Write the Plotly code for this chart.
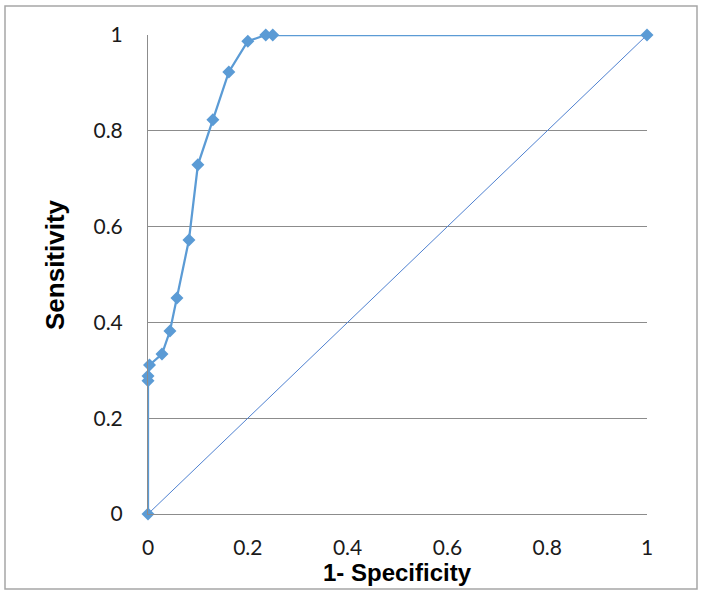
import plotly.graph_objects as go

# ROC curve points (1 - specificity, sensitivity)
fpr = [0, 0, 0, 0.003, 0.028, 0.044, 0.058, 0.082, 0.100, 0.130, 0.162, 0.200, 0.236, 0.250, 1.0]
tpr = [0, 0.278, 0.288, 0.311, 0.334, 0.382, 0.451, 0.572, 0.729, 0.823, 0.923, 0.987, 1.0, 1.0, 1.0]

# reference diagonal
diag_x = [0, 1]
diag_y = [0, 1]

tick_vals = [0, 0.2, 0.4, 0.6, 0.8, 1]
tick_text = ["0", "0.2", "0.4", "0.6", "0.8", "1"]

x_title = "1- Specificity"
y_title = "Sensitivity"

grid = "#8c8c8c"

fig = go.Figure()
fig.add_trace(go.Scatter(x=diag_x, y=diag_y, mode="lines",
                         line=dict(color="#4f81d0", width=1),
                         showlegend=False, hoverinfo="skip"))
fig.add_trace(go.Scatter(x=fpr, y=tpr, mode="lines+markers",
                         line=dict(color="#5b9bd5", width=2.25),
                         marker=dict(symbol="diamond", size=10, color="#5b9bd5"),
                         cliponaxis=False, showlegend=False))

W, H = 704, 595
L, R, T, B = 148, 647, 35, 514
pw, ph = R - L, B - T

def px2x(p):
    return (p - L) / pw

def px2y(p):
    return (B - p) / ph

fig.add_shape(type="rect", xref="paper", yref="paper",
              x0=px2x(5), x1=px2x(697), y0=px2y(589), y1=px2y(6),
              line=dict(color="#a6a6a6", width=1.5), fillcolor="rgba(0,0,0,0)",
              layer="below")

title_font = dict(family="Liberation Sans, Arial, sans-serif", size=24, color="#000")
fig.add_annotation(text="<b>%s</b>" % x_title, xref="paper", yref="paper",
                   x=px2x(397), y=px2y(572), xanchor="center", yanchor="middle",
                   showarrow=False, font=title_font)
fig.add_annotation(text="<b>%s</b>" % y_title, xref="paper", yref="paper",
                   x=px2x(55), y=px2y(265), xanchor="center", yanchor="middle",
                   textangle=-90, showarrow=False,
                   font=dict(family="Liberation Sans, Arial, sans-serif", size=26, color="#000"))

fig.update_layout(
    width=W, height=H,
    margin=dict(l=L, r=W - R, t=T, b=H - B, autoexpand=False),
    paper_bgcolor="white", plot_bgcolor="white",
    font=dict(family="Lato, Open Sans, sans-serif", color="#1a1a1a", size=21),
    xaxis=dict(range=[0, 1], tickvals=tick_vals, ticktext=tick_text,
               showgrid=False, zeroline=False, showline=True, linecolor=grid, linewidth=1,
               ticks="", ticklabelstandoff=15, tickfont=dict(size=21)),
    yaxis=dict(range=[0, 1], tickvals=tick_vals, ticktext=tick_text,
               showgrid=True, gridcolor=grid, gridwidth=1,
               zeroline=False, showline=True, linecolor=grid, linewidth=1,
               ticks="", ticklabelstandoff=20, tickfont=dict(size=21)),
)

fig.write_html("out.html", config={"displayModeBar": False},
               post_script="document.body.style.margin='0';")
